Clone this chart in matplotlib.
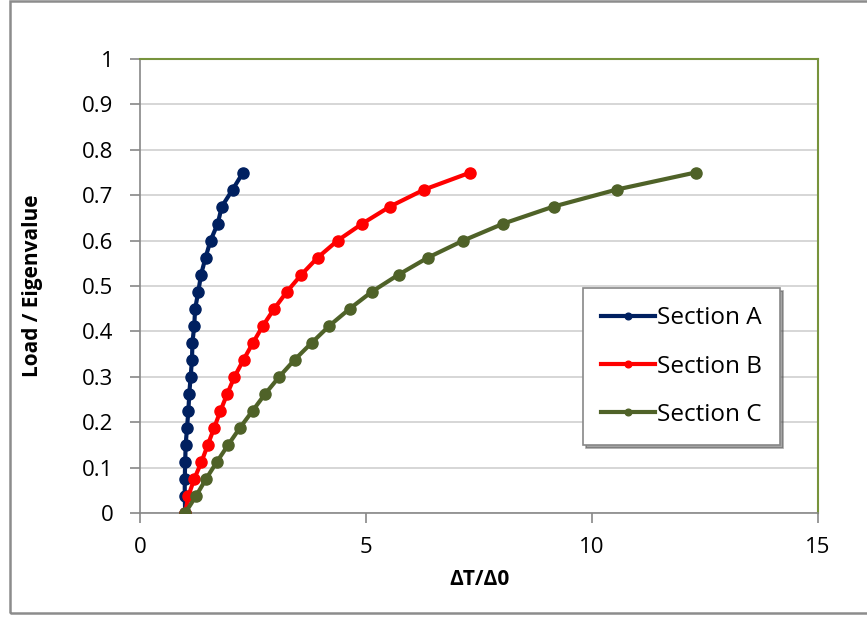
import matplotlib
matplotlib.use('Agg')
import matplotlib.pyplot as plt
from matplotlib.patches import Rectangle

plt.rcParams['font.family'] = ['Open Sans', 'DejaVu Sans']

# load steps (same for all sections)
load = [0.0, 0.0375, 0.075, 0.1125, 0.15, 0.1875, 0.225, 0.2625, 0.3, 0.3375, 0.375,
        0.4125, 0.45, 0.4875, 0.525, 0.5625, 0.6, 0.6375, 0.675, 0.7125, 0.75]

sec_a = [1.00, 0.99, 0.99, 1.00, 1.01, 1.04, 1.07, 1.09, 1.12, 1.15, 1.16,
         1.20, 1.22, 1.29, 1.35, 1.45, 1.56, 1.72, 1.81, 2.05, 2.28]
sec_b = [1.00, 1.07, 1.20, 1.36, 1.50, 1.64, 1.78, 1.93, 2.09, 2.29, 2.50,
         2.72, 2.97, 3.25, 3.57, 3.93, 4.37, 4.92, 5.53, 6.29, 7.31]
sec_c = [1.00, 1.24, 1.46, 1.70, 1.95, 2.21, 2.49, 2.77, 3.08, 3.42, 3.80,
         4.19, 4.64, 5.13, 5.72, 6.37, 7.15, 8.04, 9.15, 10.55, 12.29]

names = ['Section A', 'Section B', 'Section C']
colors = ['#002060', '#FF0000', '#4F6228']

fig = plt.figure(figsize=(8.67, 6.17), dpi=100)
ax = fig.add_axes([140/867, 1-513/617, (818-140)/867, (513-59)/617])

for xs, name, col in zip([sec_a, sec_b, sec_c], names, colors):
    ax.plot(xs, load, '-o', color=col, lw=3, ms=8, label=name, zorder=3)

ax.set_xlim(0, 15)
ax.set_ylim(0, 1)
ax.set_xticks([0, 5, 10, 15])
ax.set_yticks([i/10 for i in range(11)])
ax.set_yticklabels(['0', '0.1', '0.2', '0.3', '0.4', '0.5', '0.6', '0.7', '0.8', '0.9', '1'])
ax.grid(axis='y', color='#d0d0d0', lw=1.2)
ax.set_axisbelow(True)
ax.tick_params(labelsize=16, length=7, color='#888888', width=1.2)
ax.tick_params(axis='y', pad=12)
ax.tick_params(axis='x', pad=10)

for s in ['left', 'bottom']:
    ax.spines[s].set_color('#888888')
    ax.spines[s].set_linewidth(1.2)
for s in ['top', 'right']:
    ax.spines[s].set_color('#77933C')
    ax.spines[s].set_linewidth(1.5)

ax.set_xlabel('ΔT/Δ0', fontsize=15, fontweight='bold', labelpad=8)
ax.set_ylabel('Load / Eigenvalue', fontsize=15, fontweight='bold', labelpad=28)

leg = ax.legend(loc='upper left', bbox_to_anchor=(583/867, 1-288/617),
                bbox_transform=fig.transFigure, borderaxespad=0,
                fontsize=17.5, frameon=True, fancybox=False, shadow=True,
                markerscale=0.6, labelspacing=1.0, handlelength=2.2,
                handletextpad=0.1, borderpad=0.75)
leg.get_frame().set_edgecolor('#888888')
leg.get_frame().set_linewidth(1.2)

# outer chart border
fig.patches.append(Rectangle((9.5/867, 4/617), 1.0, (617-5)/617, transform=fig.transFigure,
                             fill=False, edgecolor='#8c8c8c', lw=1.8))

fig.savefig('out.png', dpi=100)
